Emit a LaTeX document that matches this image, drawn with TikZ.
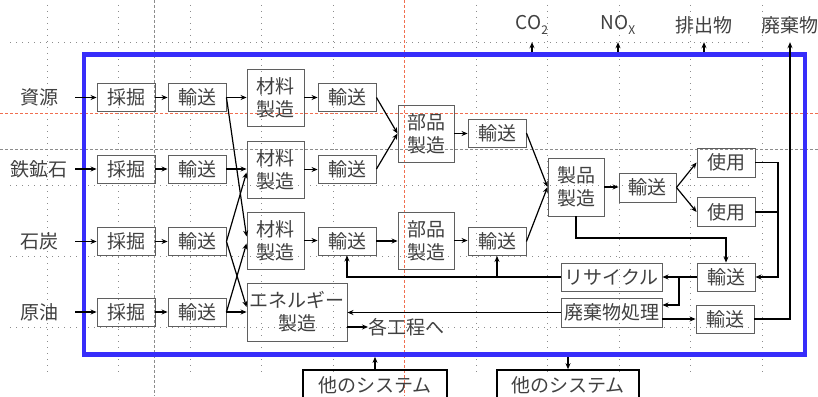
\documentclass[tikz,border=0pt]{standalone}
\usepackage{fontspec}
\newfontfamily\jp{Noto Sans CJK JP}
\usetikzlibrary{arrows.meta,calc}
\definecolor{txt}{RGB}{64,64,64}
\definecolor{bord}{RGB}{95,95,95}
\definecolor{frameblue}{RGB}{55,45,250}
\definecolor{gridc}{RGB}{140,140,140}
\definecolor{redg}{RGB}{240,110,80}
\begin{document}
\begin{tikzpicture}[x=1pt,y=-1pt,
  box/.style={draw=bord, line width=0.9pt, text=txt, font=\jp\fontsize{19}{23}\selectfont, inner sep=0pt, align=center, minimum width=58pt, minimum height=28pt},
  tall/.style={box, minimum width=57pt, minimum height=57pt},
  lbl/.style={text=txt, font=\jp\fontsize{19}{23}\selectfont, inner sep=0pt},
  arr/.style={-{Stealth[length=6pt,width=5pt]}, line width=1.2pt, black},
  ln/.style={line width=1.2pt, black},
  gridl/.style={gridc, line width=0.6pt, dash pattern=on 1pt off 5pt},
  gdash/.style={gridc, line width=0.6pt, dash pattern=on 3pt off 2pt},
  rdash/.style={redg, line width=0.6pt, dash pattern=on 3pt off 2pt},
  sysbox/.style={draw=black, line width=1.6pt, text=txt, font=\jp\fontsize{19}{23}\selectfont, inner sep=0pt, minimum height=30pt},
]
\useasboundingbox (0,0) rectangle (818,396);
% guide grid
\foreach \gx in {47,118.5,190,261.5,333,476,547.5,619,690.5,762}
  \draw[gridl] (\gx,5) -- (\gx,372);
\foreach \gy in {42,185,256.5,327.5}
  \draw[gridl] (10,\gy) -- (750,\gy);
\draw[gdash] (154,0) -- (154,396);
\draw[gdash] (0,149) -- (818,149);
\draw[rdash] (404.5,0) -- (404.5,396);
\draw[rdash] (0,113) -- (818,113);

% frame
\node[draw=frameblue, line width=4.5pt, minimum width=721pt, minimum height=300pt, inner sep=0pt] (F) at (444.5,204.6) {};

% left labels
\node[lbl, minimum width=72pt] (L1) at (39,97.5) {資源};
\node[lbl, minimum width=72pt] (L2) at (39,169) {鉄鉱石};
\node[lbl, minimum width=72pt] (L3) at (39,241.5) {石炭};
\node[lbl, minimum width=72pt] (L4) at (39,312) {原油};

% mining
\node[box] (M1) at (126,97.5) {採掘};
\node[box] (M2) at (126,169) {採掘};
\node[box] (M3) at (126,241.5) {採掘};
\node[box] (M4) at (126,312) {採掘};
% transport 1
\node[box] (T1) at (197,97.5) {輸送};
\node[box] (T2) at (197,169) {輸送};
\node[box] (T3) at (197,241.5) {輸送};
\node[box] (T4) at (197,312) {輸送};
% material
\node[tall] (Z1) at (275.5,97.5) {材料\\製造};
\node[tall] (Z2) at (275.5,169.5) {材料\\製造};
\node[tall] (Z3) at (275.5,240.5) {材料\\製造};
\node[box, minimum width=100pt, minimum height=58pt] (E) at (297,312) {エネルギー\\製造};
% transport 2
\node[box] (U1) at (347,97.5) {輸送};
\node[box] (U2) at (347,169) {輸送};
\node[box] (U3) at (347,241) {輸送};
% parts
\node[tall, minimum width=56pt] (P1) at (426,133.5) {部品\\製造};
\node[tall, minimum width=56pt] (P2) at (426,240.5) {部品\\製造};
\node[box] (V1) at (497,133) {輸送};
\node[box] (V2) at (497,241.5) {輸送};
% product
\node[tall, minimum width=56pt, minimum height=58pt] (S) at (576,187) {製品\\製造};
\node[box, minimum width=57pt, minimum height=29pt] (W) at (647.5,187.5) {輸送};
\node[box, minimum height=29pt] (K1) at (726,162.5) {使用};
\node[box, minimum height=29pt] (K2) at (726,212) {使用};
\node[box] (R1) at (726,277) {輸送};
\node[box] (R2) at (725,319) {輸送};
\node[box, minimum width=101pt] (RC) at (611.5,277) {リサイクル};
\node[box, minimum width=101pt, minimum height=29pt] (HK) at (611.5,312.5) {廃棄物処理};
\node[lbl, anchor=west] (G) at (368,327) {各工程へ};

% top labels
\node[lbl, minimum height=34pt] (Q1) at (532,25) {CO\raisebox{-5pt}{\fontsize{12}{12}\selectfont 2}};
\node[lbl, minimum height=34pt] (Q2) at (618,25) {NO\raisebox{-5pt}{\fontsize{12}{12}\selectfont X}};
\node[lbl, minimum height=34pt] (Q3) at (704,25) {排出物};
\node[lbl, minimum height=34pt] (Q4) at (790,25) {廃棄物};

% other systems
\node[sysbox, minimum width=144pt] (O1) at (375,385) {他のシステム};
\node[sysbox, minimum width=142pt] (O2) at (568,385) {他のシステム};

% coordinates for junctions
\coordinate (jr) at (778,0);
\coordinate (js) at (0,238);
\coordinate (jb) at (679,0);

% connectors
\foreach \i in {1,2,3,4} {
  \draw[arr] (L\i.east) -- (M\i.west);
  \draw[arr] (M\i.east) -- (T\i.west);
}
\draw[arr] (T1.east) -- (T1.east -| Z1.west);
\draw[arr] (T1.east) -- ($(Z3.west)+(0,-4)$);
\draw[arr] (T2.east) -- (T2.east -| Z2.west);
\draw[arr] (T3.east) -- ($(Z2.west)+(0,3)$);
\draw[arr] (T3.east) -- ($(E.west)+(0,-5)$);
\draw[arr] (T4.east) -- ($(Z3.west)+(0,3)$);
\draw[arr] (T4.east) -- (T4.east -| E.west);

\draw[arr] (Z1.east) -- (Z1.east -| U1.west);
\draw[arr] (Z2.east) -- (Z2.east -| U2.west);
\draw[arr] (Z3.east) -- (Z3.east -| U3.west);

\draw[arr] (U1.east) -- (P1.west);
\draw[arr] (U2.east) -- (P1.west);
\draw[arr] (U3.east) -- (U3.east -| P2.west);
\draw[arr] (P1.east) -- (P1.east -| V1.west);
\draw[arr] (P2.east) -- (P2.east -| V2.west);
\draw[arr] (V1.east) -- (S.west);
\draw[arr] (V2.east) -- (S.west);
\draw[arr] (S.east) -- (S.east -| W.west);
\draw[arr] (W.east) -- (K1.west);
\draw[arr] (W.east) -- (K2.west);

\draw[arr] (K1.east) -- (K1.east -| jr) |- (R1.east);
\draw[ln] (K2.east) -- (K2.east -| jr);
\draw[arr] (S.south) -- (S.south |- js) -| (R1.north);

\draw[arr] (R1.west) -- (RC.east);
\draw[arr] (R1.west -| jb) |- ($(HK.east)+(0,-7.5)$);
\draw[arr] (RC.west) -| (U3.south);
\draw[arr] (RC.west -| V2.south) -- (V2.south);
\draw[arr] (HK.west) -- (HK.west -| E.east);
\draw[arr] (HK.east |- R2.west) -- (R2.west);
\draw[arr] (E.east |- G.west) -- (G.west);
\draw[arr] (R2.east) -| (Q4.south);

\draw[arr] (F.north -| Q1.south) -- (Q1.south);
\draw[arr] (F.north -| Q2.south) -- (Q2.south);
\draw[arr] (F.north -| Q3.south) -- (Q3.south);
\draw[arr] (O1.north) -- (O1.north |- F.south);
\draw[arr] (F.south -| O2.north) -- (O2.north);
\end{tikzpicture}
\end{document}
